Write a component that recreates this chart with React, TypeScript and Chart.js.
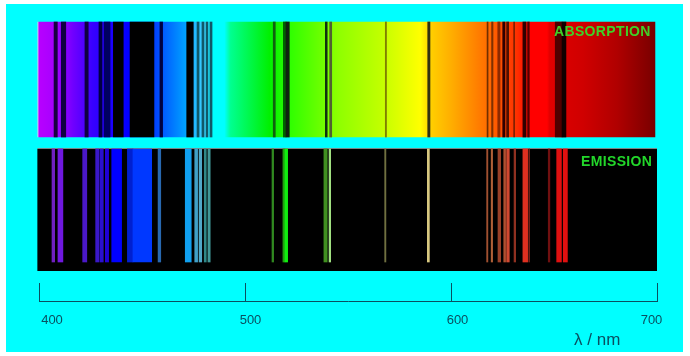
import React, { useEffect, useRef } from "react";
import { Chart, registerables } from "chart.js";

Chart.register(...registerables);

// Visible spectrum colour ramp: wavelength (nm) and colour
const rampNm = [399.4, 400, 407, 413, 416.5, 426, 444, 456, 463.6, 471, 480, 484.5, 490, 493, 512, 522, 546, 565.5, 585, 590, 599.5, 617, 624, 632, 638, 646.6, 648, 664, 680.6, 696.6, 699];
const rampColor = ["#d8c8f8", "#b800ff", "#a800ff", "#8c00ff", "#7000ff", "#3800ff", "#0000ff", "#0040ff", "#0070ff", "#00a0ff", "#40d0ff", "#00ffff", "#00ffff", "#00ff90", "#00f000", "#30ff00", "#90ff00", "#c0ff00", "#ffff00", "#ffd000", "#ffb000", "#ff7000", "#ff5000", "#ff3000", "#ff0000", "#ff0000", "#e00000", "#d00000", "#b00000", "#800000", "#780000"];

// Absorption lines: start nm, end nm, colour
const absFrom = [407.3, 410.8, 422.3, 429.1, 431.6, 436.1, 444.2, 458.7, 471.7, 476.7, 479.1, 481.1, 483, 513.7, 518.6, 519.9, 539, 541.1, 568.1, 588.7, 617.5, 619.7, 622.7, 625.1, 627, 630.4, 634.9, 637.2, 650.6, 653.9];
const absTo = [408.9, 413, 423.9, 430.6, 434.5, 440.9, 455.8, 460, 474.9, 477.7, 480.1, 482, 484, 514.7, 519.9, 521.5, 539.9, 542.1, 568.7, 589.8, 618, 620.4, 623.8, 626.2, 628, 630.9, 636.4, 638, 653.9, 655.8];
const absColor = ["#180040", "#100040", "#100040", "#000040", "#000060", "#000000", "#000000", "#000040", "#000000", "#105868", "#105868", "#105868", "#105868", "#106010", "#006000", "#102010", "#103010", "#506030", "#808000", "#303010", "#703000", "#803000", "#8c2a00", "#300000", "#501000", "#802000", "#300000", "#500000", "#500000", "#100000"];

// Emission lines: start nm, end nm, colour
const emFrom = [406.3, 409.2, 421.2, 427.5, 429.6, 432.2, 435.3, 442.9, 445.6, 457.8, 471, 475.6, 477.7, 480.2, 482, 513.1, 518.4, 519.4, 538.3, 540.8, 567.8, 588.5, 617.3, 619.5, 622.8, 625.6, 627, 630.6, 634.9, 637.7, 647.2, 651.3, 654.5];
const emTo = [407.6, 411.6, 423.2, 429.1, 431.2, 433.8, 440.1, 445.6, 454.7, 459.1, 473.9, 477, 479, 481.2, 483.1, 513.9, 519.4, 520.7, 539.9, 541.6, 568.4, 589.5, 617.9, 620.2, 624.1, 626.5, 628.3, 631.4, 637.2, 638.2, 648, 653.6, 656.5];
const emColor = ["#7020c0", "#7018e0", "#4a18c8", "#3a18c8", "#2a10d0", "#2000d8", "#0000ff", "#0020d0", "#0038ff", "#2868b0", "#10a0f0", "#40a0c8", "#50a8c8", "#308888", "#409898", "#308820", "#20a010", "#10ee10", "#409020", "#a0e080", "#707040", "#d8c880", "#a05030", "#b06038", "#984028", "#b05030", "#d04830", "#903020", "#e03020", "#702018", "#701010", "#e01010", "#e01010"];

const axisTicks = [400, 500, 600, 700];
const axisTitle = "λ / nm";
const panelNames = ["ABSORPTION", "EMISSION"];

// Layout (canvas pixels)
const W = 690;
const H = 356;
const AXIS_Y = 301;
const FONT = '"Liberation Sans", Arial, sans-serif';
const INK = "#0a4f60";
const tickLabelShift = [13, 5.5, 6.5, -5.5];

const seen = new WeakSet<object>();

const decor = {
  id: "decor",
  beforeDraw(chart: any) {
    const items = chart.scales.x.getLabelItems();
    if (!seen.has(items)) {
      seen.add(items);
      items.forEach((it: any, i: number) => {
        it.options.translation[0] += tickLabelShift[i] ?? 0;
      });
    }
  },
  afterDatasetsDraw(chart: any) {
    const { ctx, scales } = chart;
    const x = scales.x;
    ctx.save();
    ctx.textBaseline = "middle";
    ctx.textAlign = "right";
    ctx.font = `bold 14px ${FONT}`;
    (ctx as any).letterSpacing = "0.35px";
    ctx.fillStyle = "#3fd027";
    ctx.fillText(panelNames[0], x.getPixelForValue(697), 32.5);
    ctx.fillStyle = "#22d62a";
    ctx.fillText(panelNames[1], x.getPixelForValue(697.7), 162.5);
    (ctx as any).letterSpacing = "0px";
    ctx.font = `17px ${FONT}`;
    ctx.textAlign = "center";
    ctx.fillStyle = INK;
    ctx.fillText(axisTitle, x.getPixelForValue(671), 340);
    ctx.restore();
  },
};

export default function App() {
  const ref = useRef<HTMLCanvasElement>(null);
  useEffect(() => {
    document.body.style.margin = "0";
    const rampFill = (c: any) => {
      const x = c.chart.scales.x;
      if (!x) return "#000";
      const x0 = x.getPixelForValue(rampNm[0]);
      const x1 = x.getPixelForValue(rampNm[rampNm.length - 1]);
      if (!Number.isFinite(x0) || !Number.isFinite(x1)) return "#000";
      const g = c.chart.ctx.createLinearGradient(x0, 0, x1, 0);
      rampNm.forEach((nm, i) => g.addColorStop((nm - rampNm[0]) / (rampNm[rampNm.length - 1] - rampNm[0]), rampColor[i]));
      return g;
    };
    const band = (y: number, from: number[], to: number[]) => from.map((f, i) => ({ y, x: [f, to[i]] }));
    const shared = { stack: "s", clip: false as const, borderWidth: 0, categoryPercentage: 1, barPercentage: 1 };
    const chart = new Chart(ref.current!, {
      type: "bar",
      plugins: [decor],
      data: {
        datasets: [
          { ...shared, label: "Absorption spectrum", order: 2, barThickness: 115, backgroundColor: rampFill, data: band(79.5, [399.4], [699]) },
          { ...shared, label: "Absorption lines", order: 1, barThickness: 115, backgroundColor: absColor, data: band(79.5, absFrom, absTo) },
          {
            ...shared,
            label: "Emission background",
            order: 2,
            barThickness: 123,
            backgroundColor: "#000000",
            borderColor: "#9fb4b4",
            borderSkipped: false,
            borderWidth: { top: 1, left: 0, right: 0, bottom: 0 },
            data: band(209.5, [399.2], [700]),
          },
          { ...shared, label: "Emission lines", order: 1, barThickness: 113, backgroundColor: emColor, data: band(205.5, emFrom, emTo) },
        ] as any,
      },
      options: {
        indexAxis: "y",
        animation: false,
        responsive: false,
        devicePixelRatio: 1,
        layout: { autoPadding: false, padding: { left: 39, right: 33, top: 0, bottom: 0 } },
        plugins: { legend: { display: false }, tooltip: { enabled: false }, title: { display: false } },
        scales: {
          y: { type: "linear", display: false, reverse: true, min: 0, max: AXIS_Y, stacked: true, offset: false },
          x: {
            type: "linear",
            min: 400,
            max: 700,
            stacked: false,
            afterFit: (s: any) => { s.height = H - AXIS_Y; s.paddingLeft = 0; s.paddingRight = 0; },
            afterBuildTicks: (s: any) => { s.ticks = axisTicks.map((value) => ({ value })); },
            grid: { drawOnChartArea: false, drawTicks: true, tickLength: -18, tickColor: INK, tickWidth: 1 },
            border: { display: true, color: INK, width: 1 },
            ticks: { color: INK, padding: 30, maxRotation: 0, autoSkip: false, font: { family: FONT, size: 13 } },
          },
        },
      } as any,
    });
    return () => chart.destroy();
  }, []);
  return (
    <canvas
      ref={ref}
      width={W}
      height={H}
      style={{
        display: "block",
        width: W,
        height: H,
        background: "linear-gradient(#00ffff,#00ffff) 6px 4px / 677px 348px no-repeat #ffffff",
      }}
    />
  );
}
